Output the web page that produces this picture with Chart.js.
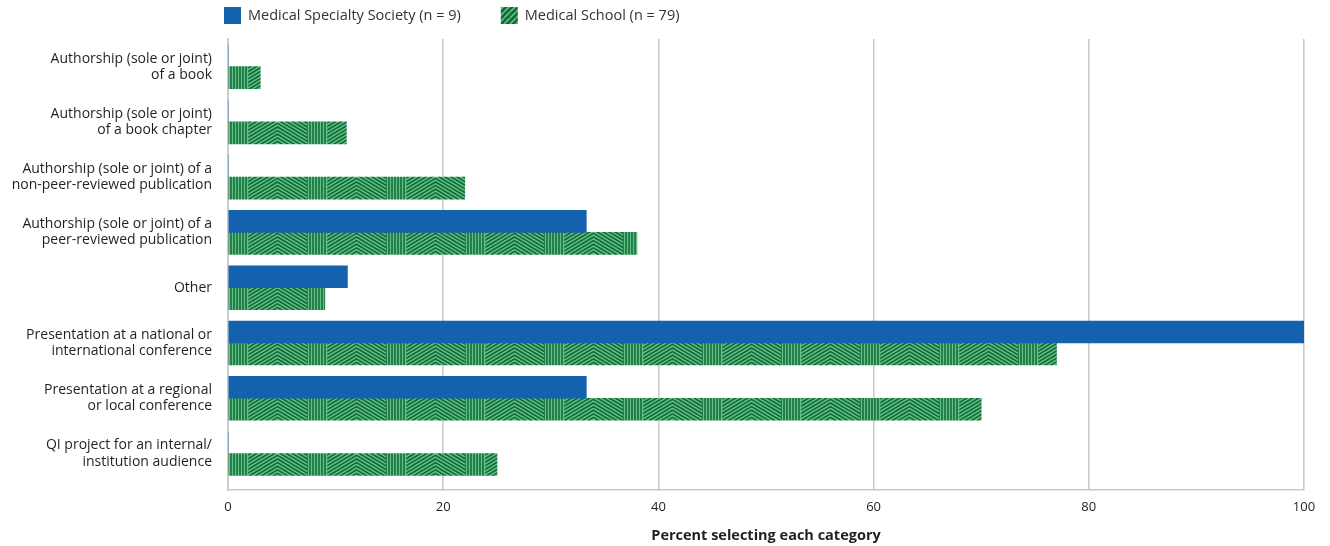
<!DOCTYPE html>
<html>
<head>
<meta charset="utf-8">
<script src="https://cdn.jsdelivr.net/npm/chart.js@4.4.1/dist/chart.umd.min.js"></script>
<style>
  html, body { margin: 0; padding: 0; background: #fff; }
  #wrap { position: relative; width: 1330px; height: 546px; }
</style>
</head>
<body>
<div id="wrap"><canvas id="chart" width="1330" height="546"></canvas></div>
<script>
// Output types and share of respondents selecting each
const categories = [
  ['Authorship (sole or joint)', 'of a book'],
  ['Authorship (sole or joint)', 'of a book chapter'],
  ['Authorship (sole or joint) of a', 'non-peer-reviewed publication'],
  ['Authorship (sole or joint) of a', 'peer-reviewed publication'],
  ['Other'],
  ['Presentation at a national or', 'international conference'],
  ['Presentation at a regional', 'or local conference'],
  ['QI project for an internal/', 'institution audience']
];
const societyLabel = 'Medical Specialty Society (n = 9)';
const schoolLabel = 'Medical School (n = 79)';
const societyValues = [0, 0, 0, 33.3, 11.1, 100, 33.3, 0];
const schoolValues = [3, 11, 22, 38, 9, 77, 70, 25];
const xTicks = [0, 20, 40, 60, 80, 100];
const xTitle = 'Percent selecting each category';

const BLUE = '#1461ad';
const DARK_GREEN = '#12683a';
const LIGHT_GREEN = '#60c283';
const FONT = '"Open Sans", "Noto Sans", sans-serif';

// Tile for the woven green fill: a band of vertical stripes followed by nested chevrons
function makeWeaveTile() {
  const w = 79, h = 22;
  const c = document.createElement('canvas');
  c.width = w; c.height = h;
  const g = c.getContext('2d');
  g.fillStyle = DARK_GREEN;
  g.fillRect(0, 0, w, h);
  g.strokeStyle = LIGHT_GREEN;
  g.lineWidth = 1.5;
  // vertical stripes
  for (let x = 1; x < 20; x += 3) {
    g.beginPath(); g.moveTo(x + 0.5, 0); g.lineTo(x + 0.5, h); g.stroke();
  }
  // chevrons
  g.save();
  g.beginPath(); g.rect(20, 0, w - 20, h); g.clip();
  const cx = 20 + (w - 20) / 2;
  for (let k = -40; k < 60; k += 3.6) {
    g.beginPath();
    g.moveTo(18, k + (cx - 18) * 0.6);
    g.lineTo(cx, k);
    g.lineTo(w + 2, k + (w + 2 - cx) * 0.6);
    g.stroke();
  }
  g.restore();
  return c;
}

// Tile for the legend swatch: plain diagonal hatch
function makeHatchTile() {
  const s = 6;
  const c = document.createElement('canvas');
  c.width = s; c.height = s;
  const g = c.getContext('2d');
  g.fillStyle = DARK_GREEN;
  g.fillRect(0, 0, s, s);
  g.strokeStyle = LIGHT_GREEN;
  g.lineWidth = 1.6;
  for (let o = -s; o <= s; o += s) {
    g.beginPath(); g.moveTo(o, s); g.lineTo(o + s, 0); g.stroke();
  }
  return c;
}

const weaveTile = makeWeaveTile();
const hatchTile = makeHatchTile();
const ctx2d = document.getElementById('chart').getContext('2d');
const hatchPattern = ctx2d.createPattern(hatchTile, 'repeat');

// Each green bar gets its own pattern anchored at the bar's top-left corner
function schoolFill(context) {
  const chart = context.chart;
  const pattern = chart.ctx.createPattern(weaveTile, 'repeat');
  const ys = chart.scales.y, xs = chart.scales.x;
  if (ys && xs && context.dataIndex !== undefined) {
    const top = Math.round(ys.getPixelForValue(context.dataIndex));
    pattern.setTransform(new DOMMatrix().translate(xs.left, top));
  }
  return pattern;
}

// Legend drawn just above the plot, starting at the left edge of the bars
const topLegend = {
  id: 'topLegend',
  afterDraw(chart) {
    const g = chart.ctx;
    const items = [
      { label: societyLabel, fill: BLUE },
      { label: schoolLabel, fill: hatchPattern }
    ];
    let x = chart.chartArea.left - 4;
    const y = 16;
    g.save();
    g.font = '14.5px ' + FONT;
    g.textBaseline = 'middle';
    items.forEach(it => {
      g.fillStyle = it.fill;
      g.fillRect(x, y - 9, 17, 17);
      g.fillStyle = '#333333';
      g.fillText(it.label, x + 24, y);
      x += 24 + g.measureText(it.label).width + 40;
    });
    g.restore();
  }
};

// Categories sit on a numeric index axis so the plot can keep a little room below the last row
const indexPoints = values => values.map((v, i) => ({ x: v, y: i }));

new Chart(ctx2d, {
  type: 'bar',
  data: {
    datasets: [
      {
        label: societyLabel,
        data: indexPoints(societyValues),
        backgroundColor: BLUE,
        borderWidth: 0,
        barThickness: 22
      },
      {
        label: schoolLabel,
        data: indexPoints(schoolValues),
        backgroundColor: schoolFill,
        borderWidth: 0,
        barThickness: 22
      }
    ]
  },
  options: {
    indexAxis: 'y',
    responsive: false,
    animation: false,
    layout: { padding: { top: 39, right: 26, bottom: 1, left: 0 } },
    plugins: {
      legend: { display: false },
      tooltip: { enabled: false }
    },
    scales: {
      x: {
        type: 'linear',
        min: 0,
        max: 100,
        afterBuildTicks(scale) {
          scale.ticks = xTicks.map(v => ({ value: v }));
        },
        afterFit(scale) { scale.height = 55; },
        grid: { color: '#c9c9c9', lineWidth: 1.6, drawTicks: false },
        border: { display: true, color: '#c9c9c9', width: 1.6 },
        ticks: {
          padding: 9,
          color: '#231f20',
          font: { family: FONT, size: 13 }
        },
        title: {
          display: true,
          text: xTitle,
          color: '#231f20',
          padding: { top: 7, bottom: 0 },
          font: { family: FONT, size: 14.5, weight: 'bold' }
        }
      },
      y: {
        type: 'linear',
        reverse: true,
        offset: false,
        min: -0.5,
        max: 7.66,
        afterBuildTicks(scale) {
          scale.ticks = categories.map((_, i) => ({ value: i }));
        },
        afterFit(scale) { scale.width = 228; },
        grid: { display: false, drawTicks: false, offset: false },
        border: { display: true, color: '#c9c9c9', width: 1.6 },
        ticks: {
          padding: 16,
          color: '#231f20',
          font: { family: FONT, size: 14, lineHeight: 1.15 },
          callback: value => categories[value]
        }
      }
    }
  },
  plugins: [topLegend]
});
</script>
</body>
</html>
